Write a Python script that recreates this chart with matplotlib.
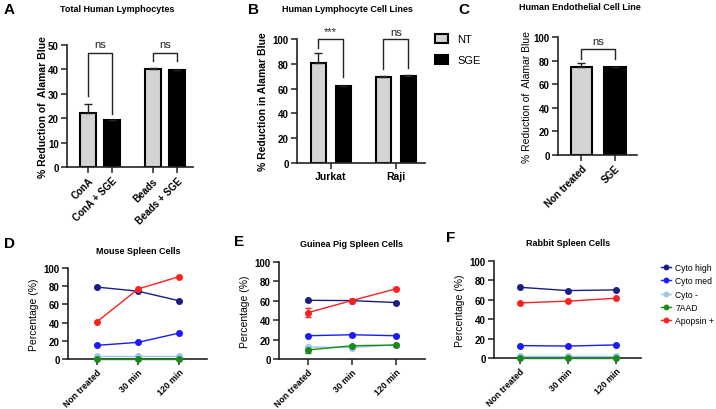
import matplotlib.pyplot as plt
import numpy as np

plt.rcParams['font.family'] = ['Liberation Sans', 'DejaVu Sans']
plt.rcParams['font.weight'] = 'bold'

# panel A
a_labels = ['ConA', 'ConA + SGE', 'Beads', 'Beads + SGE']
a_values = [22.0, 19.2, 40.2, 39.8]
a_errors = [4.0, 0.2, 0.5, 0.1]

# panel B
b_groups = ['Jurkat', 'Raji']
b_nt = [81.0, 69.5]
b_nt_err = [8.0, 0.6]
b_sge = [61.8, 70.0]
b_sge_err = [0.5, 1.0]

# panel C
c_labels = ['Non treated', 'SGE']
c_values = [74.2, 74.5]
c_errors = [4.0, 0.4]

# panels D-F
times = ['Non treated', '30 min', '120 min']
series_names = ['Cyto high', 'Cyto med', 'Cyto -', '7AAD', 'Apopsin +']
series_colors = ['#1c1c85', '#1a1aff', '#9ec5ea', '#1b8a1b', '#ff1f1f']
mouse = [[79.0, 74.5, 64.0], [15.0, 18.3, 28.5], [3.6, 3.6, 3.6],
         [0.4, 0.4, 0.4], [41.0, 77.0, 90.5]]
guinea = [[60.5, 60.2, 58.2], [24.0, 25.0, 24.0], [12.3, 11.8, 14.6],
          [9.3, 13.7, 14.4], [47.8, 60.3, 72.3]]
guinea_err = [[0.5, 0.5, 0.5], [0.5, 0.8, 0.5], [0.8, 0.5, 0.5],
              [3.0, 0.8, 0.5], [4.5, 0.5, 0.5]]
rabbit = [[72.9, 69.5, 70.2], [12.8, 12.3, 13.5], [2.0, 2.0, 2.0],
          [0.3, 0.3, 0.3], [56.8, 58.6, 61.6]]

W, H = 716, 410
fig = plt.figure(figsize=(W / 100, H / 100), dpi=100)


def make_ax(left, right, top, bottom):
    return fig.add_axes([left / W, 1 - bottom / H, (right - left) / W, (bottom - top) / H])


def style(ax):
    for s in ['top', 'right']:
        ax.spines[s].set_visible(False)
    for s in ['left', 'bottom']:
        ax.spines[s].set_linewidth(1.2)
        ax.spines[s].set_color('#222222')
    ax.tick_params(length=4, width=1.1, color='#222222', labelsize=7, pad=2)
    for t in ax.get_yticklabels() + ax.get_xticklabels():
        t.set_fontweight('bold')


def bracket(ax, x1, x2, y1, y2, top, text, ty, size=8):
    ax.plot([x1, x1, x2, x2], [y1, top, top, y2], color='#222222', lw=1.0, clip_on=False)
    ax.text((x1 + x2) / 2, ty, text, ha='center', va='center', fontsize=size,
            fontweight='normal', color='#222222', clip_on=False)


def rot_labels(ax, labels, size=7):
    ax.set_xticklabels(labels, rotation=45, ha='right', rotation_mode='anchor',
                       fontsize=size, fontweight='bold')


def panel_letter(x, y, s):
    fig.text(x / W, 1 - y / H, s, fontsize=11, fontweight='bold', ha='left', va='center')


def title(x, y, s):
    fig.text(x / W, 1 - y / H, s, fontsize=6.5, fontweight='bold', ha='center', va='center')


bar_kw = dict(edgecolor='black', linewidth=1.5, capsize=3,
              error_kw=dict(elinewidth=1.0, capthick=1.0, ecolor='#222222'))

# ---- A
ax = make_ax(67, 193, 46, 168)
xa = np.array([0, 1, 2.7, 3.7])
cols = ['#d3d3d3', 'black', '#d3d3d3', 'black']
for i in range(4):
    ax.bar(xa[i], a_values[i], width=0.66, color=cols[i],
           yerr=[[0], [a_errors[i]]], **bar_kw)
ax.set_ylim(0, 50)
ax.set_xlim(-0.875, 4.375)
ax.set_yticks([0, 10, 20, 30, 40, 50])
ax.set_xticks(xa)
style(ax)
rot_labels(ax, a_labels)
ax.set_ylabel('% Reduction of  Alamar Blue', fontsize=7.5, fontweight='bold', labelpad=0)
bracket(ax, xa[0], xa[1], 29, 21.6, 46.9, 'ns', 50.5)
bracket(ax, xa[2], xa[3], 43.4, 43.4, 46.9, 'ns', 50.5)
panel_letter(4, 10, 'A')
title(117, 10, 'Total Human Lymphocytes')

# ---- B
ax = make_ax(297, 425, 40, 164)
xb = np.arange(2)
off = 0.19
ax.bar(xb - off, b_nt, width=0.23, color='#d3d3d3', yerr=[[0, 0], b_nt_err],
       label='NT', **bar_kw)
ax.bar(xb + off, b_sge, width=0.23, color='black', yerr=[[0, 0], b_sge_err],
       label='SGE', **bar_kw)
ax.set_ylim(0, 100)
ax.set_xlim(-0.52, 1.45)
ax.set_yticks([0, 20, 40, 60, 80, 100])
ax.set_xticks(xb)
style(ax)
ax.set_xticklabels(b_groups, fontsize=7.5, fontweight='bold')
ax.set_ylabel('% Reduction in Alamar Blue', fontsize=7.5, fontweight='bold', labelpad=3)
bracket(ax, -off, off, 93, 69, 100, '***', 106)
bracket(ax, 1 - off, 1 + off, 76, 77, 100, 'ns', 106)
leg = ax.legend(loc='upper left', bbox_to_anchor=(1.0, 1.12), frameon=False,
                handlelength=1.2, handleheight=0.8, labelspacing=1.0,
                prop=dict(size=8, weight='normal'))
for p in leg.get_patches():
    p.set_linewidth(1.5)
panel_letter(248, 10, 'B')
title(347, 10, 'Human Lymphocyte Cell Lines')

# ---- C
ax = make_ax(558, 637, 38, 156)
xc = np.arange(2)
ax.bar(xc[0], c_values[0], width=0.64, color='#d3d3d3', yerr=[[0], [c_errors[0]]], **bar_kw)
ax.bar(xc[1], c_values[1], width=0.64, color='black', yerr=[[0], [c_errors[1]]], **bar_kw)
ax.set_ylim(0, 100)
ax.set_xlim(-0.70, 1.66)
ax.set_yticks([0, 20, 40, 60, 80, 100])
ax.set_xticks(xc)
style(ax)
rot_labels(ax, c_labels)
ax.set_ylabel('% Reduction of  Alamar Blue', fontsize=7.5, fontweight='normal', labelpad=1)
bracket(ax, 0, 1, 81, 81, 89.5, 'ns', 97)
panel_letter(458, 10, 'C')
title(580, 8, 'Human Endothelial Cell Line')


# ---- D, E, F
def line_panel(box, xlim, data, errs, ttl, tpos, letter, lpos, legend=False):
    ax = make_ax(*box)
    xt = np.arange(3)
    for i, name in enumerate(series_names):
        e = errs[i] if errs is not None else None
        ax.errorbar(xt, data[i], yerr=e, color=series_colors[i], marker='o',
                    markersize=4, lw=1.0, capsize=2, elinewidth=0.8,
                    label=name, clip_on=False, zorder=3)
    ax.set_ylim(0, 100)
    ax.set_xlim(*xlim)
    ax.set_yticks([0, 20, 40, 60, 80, 100])
    ax.set_xticks(xt)
    style(ax)
    rot_labels(ax, times, size=6.3)
    ax.set_ylabel('Percentage (%)', fontsize=7.5, fontweight='normal', labelpad=3)
    panel_letter(lpos[0], lpos[1], letter)
    title(tpos[0], tpos[1], ttl)
    if legend:
        ax.legend(loc='upper left', bbox_to_anchor=(1.08, 1.06), frameon=False,
                  handlelength=1.2, handletextpad=0.5, labelspacing=0.5,
                  markerscale=0.8, prop=dict(size=6.2, weight='normal'))
    return ax


line_panel((68, 207, 269, 360), (-0.71, 2.68), mouse, None,
           'Mouse Spleen Cells', (138, 252), 'D', (4, 244))
line_panel((279, 425, 263, 360), (-0.66, 2.66), guinea, guinea_err,
           'Guinea Pig Spleen Cells', (352, 245), 'E', (234, 242))
line_panel((494, 641, 262, 359), (-0.54, 2.52), rabbit, None,
           'Rabbit Spleen Cells', (568, 244), 'F', (446, 238), legend=True)

fig.savefig('out.png', dpi=100)
